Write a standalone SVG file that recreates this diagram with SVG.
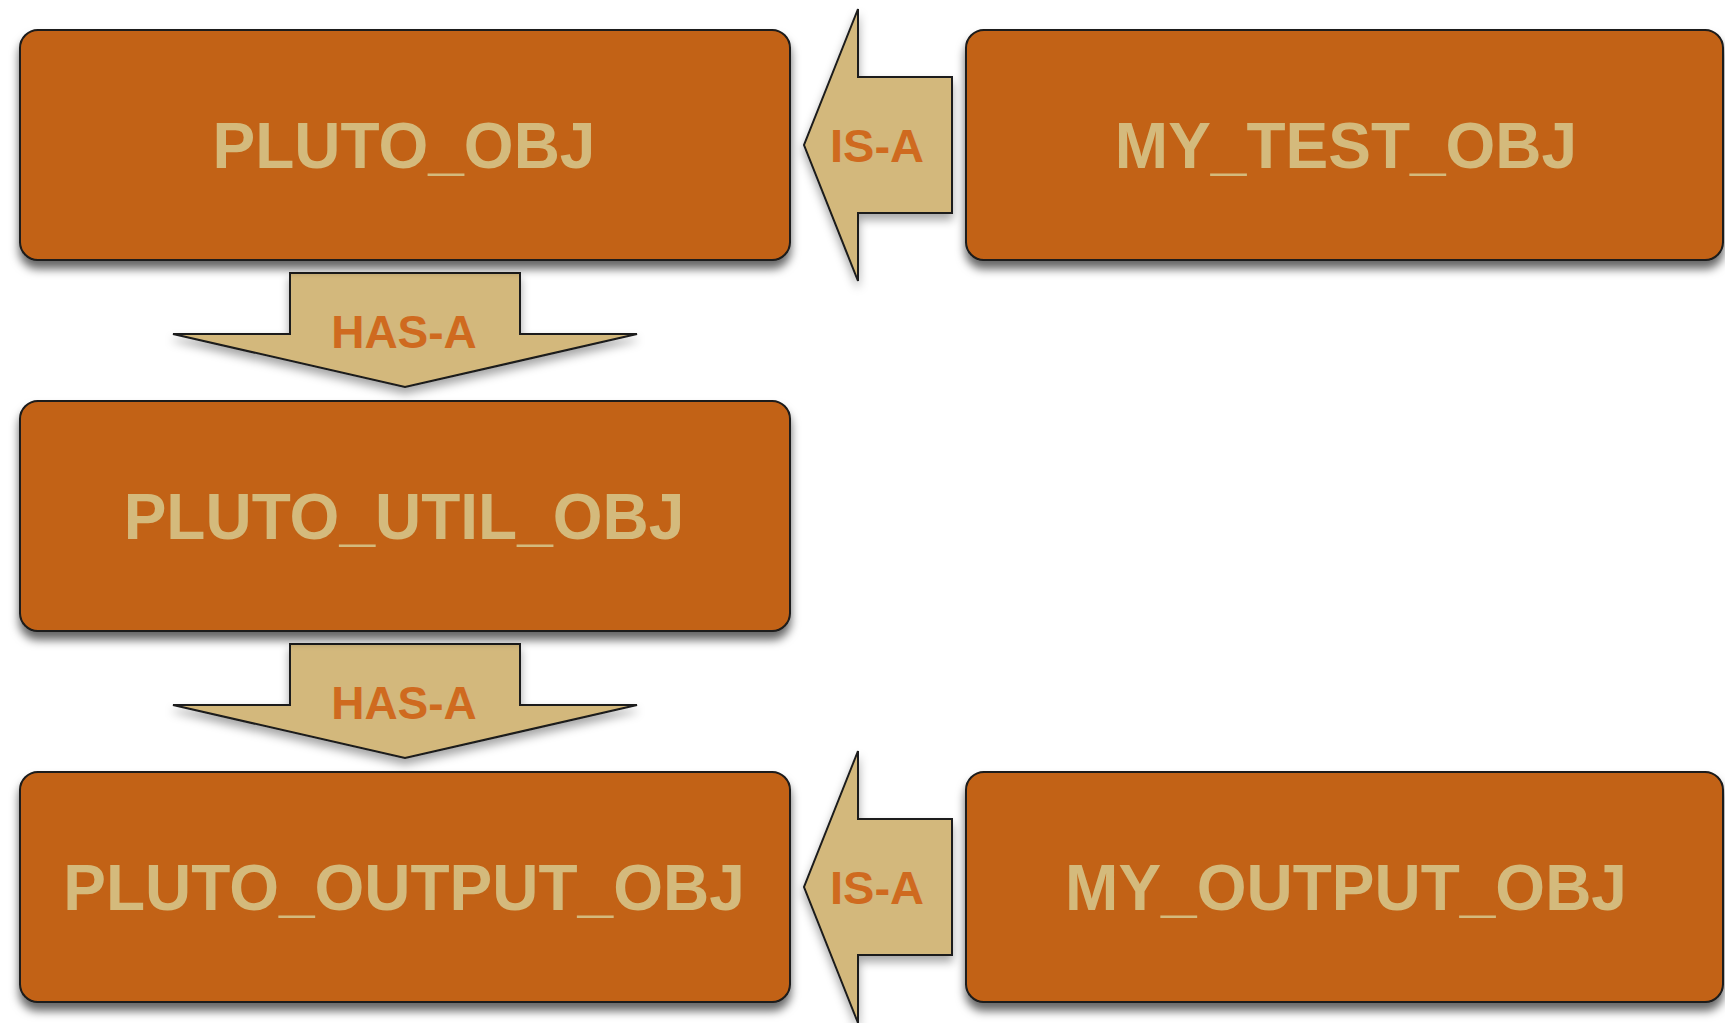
<svg xmlns="http://www.w3.org/2000/svg" width="1725" height="1023" viewBox="0 0 1725 1023">
<style>
.box{fill:#c26218;stroke:#1a1a1a;stroke-width:2;filter:url(#sh)}
.arr{fill:#d3b87b;stroke:#1a1a1a;stroke-width:2;stroke-linejoin:miter;filter:url(#sh2)}
.bt{font-family:"Liberation Sans",Arial,sans-serif;font-weight:bold;font-size:64px;fill:#d4ba7c;text-anchor:middle}
.at{font-family:"Liberation Sans",Arial,sans-serif;font-weight:bold;fill:#cf6a1f;text-anchor:middle}
</style>
<defs>
<filter id="sh" x="-10%" y="-10%" width="120%" height="135%">
<feDropShadow dx="0" dy="8" stdDeviation="5" flood-color="#000" flood-opacity="0.6"/>
</filter>
<filter id="sh2" x="-10%" y="-10%" width="120%" height="130%">
<feDropShadow dx="0" dy="6" stdDeviation="5" flood-color="#000" flood-opacity="0.35"/>
</filter>
</defs>
<rect width="1725" height="1023" fill="#ffffff"/>
<g id="connectors">
<g id="isa1">
<polygon class="arr" points="952,77 858,77 858,9 804,145 858,281 858,213 952,213"/>
<text class="at" x="877" y="162" font-size="47">IS-A</text>
</g>
<g id="hasa1">
<polygon class="arr" points="290,273 520,273 520,334 637,334 405,387 173,334 290,334"/>
<text class="at" x="404" y="348" font-size="46">HAS-A</text>
</g>
<g id="hasa2">
<polygon class="arr" points="290,644 520,644 520,705 637,705 405,758 173,705 290,705"/>
<text class="at" x="404" y="719" font-size="46">HAS-A</text>
</g>
<g id="isa2">
<polygon class="arr" points="952,819 858,819 858,751 804,887 858,1023 858,955 952,955"/>
<text class="at" x="877" y="904" font-size="47">IS-A</text>
</g>
</g>
<g id="pluto_obj">
<rect class="box" x="20" y="30" width="770" height="230" rx="18"/>
<text class="bt" x="404" y="168">PLUTO_OBJ</text>
</g>
<g id="my_test_obj">
<rect class="box" x="966" y="30" width="757" height="230" rx="18"/>
<text class="bt" x="1346" y="168">MY_TEST_OBJ</text>
</g>
<g id="pluto_util_obj">
<rect class="box" x="20" y="401" width="770" height="230" rx="18"/>
<text class="bt" x="404" y="539">PLUTO_UTIL_OBJ</text>
</g>
<g id="pluto_output_obj">
<rect class="box" x="20" y="772" width="770" height="230" rx="18"/>
<text class="bt" x="404" y="910">PLUTO_OUTPUT_OBJ</text>
</g>
<g id="my_output_obj">
<rect class="box" x="966" y="772" width="757" height="230" rx="18"/>
<text class="bt" x="1346" y="910">MY_OUTPUT_OBJ</text>
</g>
</svg>
